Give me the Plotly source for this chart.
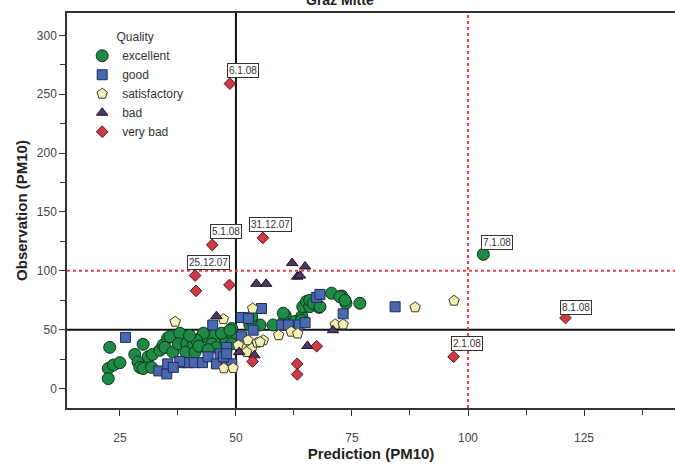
import plotly.graph_objects as go

# ---------------- data ----------------
exc_x = [22.8, 22.5, 22.5, 23.6, 25.0, 28.2, 30.0, 28.9, 29.3, 31.1, 32.0, 30.0, 31.8, 33.6, 34.3,
         35.3, 34.7, 36.4, 35.8, 37.9, 37.6, 39.4, 39.2, 40.8, 41.2, 42.6, 43.7, 45.1, 44.8, 45.8,
         47.3, 47.8, 49.1, 49.3, 49.1, 43.0, 46.9, 48.7, 53.0, 55.2, 58.0, 60.6, 60.3, 62.7, 64.2,
         64.4, 65.2, 65.9, 67.9, 70.6, 72.8, 73.7, 76.7, 72.4, 73.5, 65.9, 66.7, 68.1, 64.1, 60.2,
         53.3, 53.4, 41.5, 40.0, 42.0, 44.0, 103.3]
exc_y = [35, 17, 8.5, 20, 22, 29, 37.6, 22.5, 18, 27, 29, 17, 18, 32.5, 37,
         43, 35, 31, 44, 47, 38, 38, 31, 37.6, 31, 44, 44, 45, 38, 35,
         44, 39.6, 51, 45, 38, 47, 47, 49.6, 54, 54, 54, 62.4, 57, 57, 61.5,
         69.5, 74, 69.5, 69, 81, 78.6, 72.4, 72.4, 78, 75, 75, 72.4, 69.5, 58, 64,
         58, 61, 41, 45, 36, 33, 114]

good_x = [26.2, 33.4, 35.1, 35.3, 38.3, 39.7, 41.0, 42.8, 44.0, 46.6, 48.0, 47.8, 49.1, 45.0, 51.2,
          52.7, 55.5, 53.7, 51.2, 59.9, 61.3, 63.6, 64.9, 67.4, 68.1, 73.1, 84.3, 37.9, 36.5, 45.8,
          47.3, 48.0]
good_y = [43.5, 15, 12.5, 21, 22, 22, 22, 22, 27, 29.6, 35, 22.5, 21, 54, 60.4,
          59.5, 68, 49.6, 44, 54, 54, 54, 56, 77.5, 80, 63.5, 69.5, 23, 18, 21,
          27, 29.6]

sat_x = [36.9, 47.3, 53.6, 59.2, 61.9, 63.3, 71.4, 73.1, 47.4, 49.4, 51.2, 52.6, 53.4, 54.6, 55.9,
         52.3, 50.5, 55.2, 88.6, 97.0]
sat_y = [56.7, 59, 68, 45.3, 48.3, 46.7, 54.5, 54.5, 17.2, 17.4, 36.2, 41, 34, 39, 41,
         31, 36.8, 39.6, 69, 74.6]

bad_x = [62.1, 64.9, 63.2, 63.8, 54.4, 56.5, 45.8, 65.4, 70.9, 54.0, 50.7]
bad_y = [106.6, 103.7, 95, 96, 89, 89, 61.5, 36.2, 49.6, 28.2, 31]

vbad_x = [48.7, 44.9, 55.8, 41.2, 41.4, 48.6, 121.0, 96.9, 67.4, 63.2, 63.2, 53.6]
vbad_y = [259, 122, 128, 96, 83, 88, 60, 27, 36, 21, 12, 23]

label_text = ["6.1.08", "5.1.08", "31.12.07", "25.12.07", "7.1.08", "8.1.08", "2.1.08"]
label_x = [48.7, 44.9, 55.8, 41.2, 103.3, 121.0, 96.9]
label_y = [259, 122, 128, 96, 114, 60, 27]
label_dx = [13, 14, 8, 13, 14, 11, 13]
label_dy = [13, 13, 13, 13, 12, 10, 13]

x_ticks = [25, 50, 75, 100, 125]
y_ticks = [0, 50, 100, 150, 200, 250, 300]

# ---------------- figure ----------------
fig = go.Figure()

series = [
    ("excellent", exc_x, exc_y, "circle", 12, "#1f8a45", "#0b3319"),
    ("good", good_x, good_y, "square", 10, "#4a68ad", "#1e2c5a"),
    ("satisfactory", sat_x, sat_y, "pentagon", 11, "#f4efb6", "#3a3a2a"),
    ("bad", bad_x, bad_y, "triangle-up", 10, "#4d3763", "#1e1428"),
    ("very bad", vbad_x, vbad_y, "diamond", 9, "#cf3a47", "#5a1018"),
]
for name, xs, ys, sym, size, col, lcol in series:
    fig.add_trace(go.Scatter(
        x=xs, y=ys, mode="markers", name=name,
        marker=dict(symbol=sym, size=size, color=col, line=dict(color=lcol, width=1)),
    ))

# reference lines
fig.add_shape(type="line", xref="x", yref="y domain", x0=50, x1=50, y0=0, y1=1,
              line=dict(color="#111", width=2), layer="below")
fig.add_shape(type="line", xref="x domain", yref="y", x0=0, x1=1, y0=50, y1=50,
              line=dict(color="#111", width=2), layer="below")
fig.add_shape(type="line", xref="x", yref="y domain", x0=100, x1=100, y0=0, y1=1,
              line=dict(color="#e8404a", width=2, dash="dot"), layer="below")
fig.add_shape(type="line", xref="x domain", yref="y", x0=0, x1=1, y0=100, y1=100,
              line=dict(color="#e8404a", width=2, dash="dot"), layer="below")

for t, lx, ly, dx, dy in zip(label_text, label_x, label_y, label_dx, label_dy):
    fig.add_annotation(x=lx, y=ly, text=t, showarrow=False, xshift=dx, yshift=dy,
                       font=dict(family="Liberation Sans, Arial", size=10, color="#333"),
                       bgcolor="white", bordercolor="#333", borderwidth=1, borderpad=1)

# cropped title
fig.add_annotation(xref="paper", yref="paper", x=0.449, y=1, yanchor="bottom", yshift=3,
                   text="<b>Graz Mitte</b>", showarrow=False,
                   font=dict(family="Liberation Sans, Arial", size=14, color="#222"))

axis_font = dict(family="Liberation Sans, Arial", size=12, color="#444")
title_font = dict(family="Liberation Sans, Arial", size=15, color="#222")

fig.update_layout(
    width=675, height=465,
    margin=dict(l=67, r=0, t=13, b=57, autoexpand=False),
    paper_bgcolor="white", plot_bgcolor="white",
    font=dict(family="Liberation Sans, Arial", color="#333"),
    legend=dict(
        x=0.025, y=0.968, xanchor="left", yanchor="top",
        title=dict(text="Quality", side="top center", font=dict(size=12, color="#333")),
        font=dict(size=12, color="#333"), bgcolor="rgba(0,0,0,0)",
        tracegroupgap=0, itemwidth=30,
    ),
    xaxis=dict(
        range=[13.6, 144.6], tickvals=x_ticks, ticktext=[str(v) for v in x_ticks],
        ticks="outside", ticklen=6, tickcolor="#333", tickfont=axis_font,
        ticklabelstandoff=12,
        showgrid=False, zeroline=False, showline=True, linecolor="#333", linewidth=1.5,
        mirror=True, automargin=False,
        minor=dict(ticks="outside", ticklen=5, tickcolor="#333", dtick=12.5, tick0=0, showgrid=False),
        title=dict(text="<b>Prediction (PM10)</b>", font=title_font, standoff=0),
    ),
    yaxis=dict(
        range=[-16.5, 319], tickvals=y_ticks, ticktext=[str(v) for v in y_ticks],
        ticks="outside", ticklen=6, tickcolor="#333", tickfont=axis_font,
        showgrid=False, zeroline=False, showline=True, linecolor="#333", linewidth=1.5,
        automargin=False,
        minor=dict(ticks="outside", ticklen=5, tickcolor="#333", dtick=25, tick0=0, showgrid=False),
        title=dict(text="<b>Observation (PM10)</b>", font=title_font, standoff=6),
    ),
    showlegend=True,
)

fig.write_html("out.html", config={"displayModeBar": False},
               post_script="document.body.style.margin='0';document.body.style.overflow='hidden';")
